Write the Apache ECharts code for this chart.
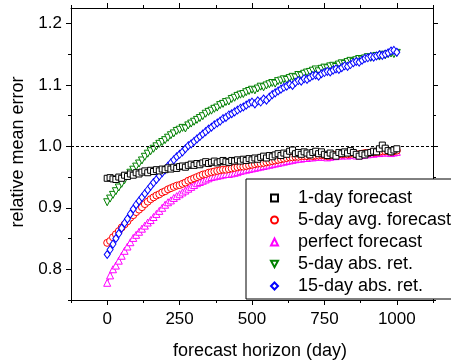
<!DOCTYPE html>
<html>
<head>
<meta charset="utf-8">
<script src="https://cdn.jsdelivr.net/npm/echarts@6/dist/echarts.min.js"></script>
<style>
  html, body { margin: 0; padding: 0; background: #fff; }
  #chart { width: 451px; height: 362px; }
</style>
</head>
<body>
<div id="chart"></div>
<script>
// Forecast horizon in days
const horizon = [
  0, 10, 20, 30, 40, 50, 60, 70, 80, 90,
  100, 110, 120, 130, 140, 150, 160, 170, 180, 190,
  200, 210, 220, 230, 240, 250, 260, 270, 280, 290,
  300, 310, 320, 330, 340, 350, 360, 370, 380, 390,
  400, 410, 420, 430, 440, 450, 460, 470, 480, 490,
  500, 510, 520, 530, 540, 550, 560, 570, 580, 590,
  600, 610, 620, 630, 640, 650, 660, 670, 680, 690,
  700, 710, 720, 730, 740, 750, 760, 770, 780, 790,
  800, 810, 820, 830, 840, 850, 860, 870, 880, 890,
  900, 910, 920, 930, 940, 950, 960, 970, 980, 990,
  1000
];

const oneDayForecast = [
  0.948, 0.949, 0.947, 0.946, 0.950, 0.948, 0.953, 0.951, 0.955, 0.953,
  0.957, 0.955, 0.958, 0.960, 0.957, 0.961, 0.959, 0.962, 0.960, 0.963,
  0.962, 0.965, 0.963, 0.966, 0.964, 0.967, 0.968, 0.966, 0.969, 0.971,
  0.969, 0.972, 0.970, 0.973, 0.975, 0.972, 0.974, 0.976, 0.973, 0.975,
  0.977, 0.975, 0.974, 0.977, 0.976, 0.978, 0.976, 0.979, 0.977, 0.980,
  0.978, 0.981, 0.979, 0.982, 0.984, 0.981, 0.985, 0.983, 0.986, 0.988,
  0.985, 0.989, 0.987, 0.992, 0.994, 0.988, 0.990, 0.987, 0.991, 0.989,
  0.986, 0.990, 0.992, 0.988, 0.991, 0.987, 0.985, 0.989, 0.986, 0.984,
  0.990, 0.988, 0.991, 0.989, 0.993, 0.990, 0.987, 0.984, 0.988, 0.986,
  0.989, 0.990, 0.992, 0.991, 0.996, 1.002, 0.997, 0.993, 0.991, 0.994,
  0.996
];

const fiveDayAvgForecast = [
  0.843, 0.846, 0.852, 0.857, 0.862, 0.868, 0.873, 0.878, 0.884, 0.888,
  0.893, 0.897, 0.901, 0.906, 0.910, 0.914, 0.917, 0.920, 0.922, 0.925,
  0.927, 0.930, 0.932, 0.934, 0.936, 0.937, 0.939, 0.941, 0.944, 0.946,
  0.948, 0.950, 0.952, 0.954, 0.955, 0.957, 0.958, 0.959, 0.960, 0.961,
  0.962, 0.962, 0.963, 0.964, 0.965, 0.966, 0.967, 0.967, 0.968, 0.969,
  0.970, 0.971, 0.972, 0.972, 0.973, 0.974, 0.975, 0.976, 0.977, 0.978,
  0.979, 0.980, 0.981, 0.982, 0.982, 0.983, 0.983, 0.984, 0.984, 0.984,
  0.985, 0.984, 0.985, 0.985, 0.986, 0.985, 0.984, 0.985, 0.986, 0.986,
  0.987, 0.987, 0.988, 0.987, 0.988, 0.988, 0.987, 0.987, 0.988, 0.989,
  0.989, 0.990, 0.990, 0.991, 0.991, 0.992, 0.992, 0.992, 0.991, 0.992,
  0.993
];

const perfectForecast = [
  0.778, 0.790, 0.800, 0.806, 0.814, 0.822, 0.830, 0.837, 0.844, 0.851,
  0.856, 0.861, 0.866, 0.871, 0.876, 0.880, 0.885, 0.890, 0.895, 0.900,
  0.905, 0.909, 0.912, 0.916, 0.919, 0.922, 0.925, 0.928, 0.931, 0.934,
  0.937, 0.940, 0.942, 0.944, 0.946, 0.948, 0.950, 0.951, 0.952, 0.953,
  0.954, 0.955, 0.955, 0.956, 0.957, 0.958, 0.960, 0.961, 0.962, 0.963,
  0.964, 0.965, 0.966, 0.967, 0.968, 0.969, 0.970, 0.971, 0.972, 0.973,
  0.974, 0.975, 0.976, 0.977, 0.978, 0.979, 0.980, 0.980, 0.981, 0.981,
  0.982, 0.982, 0.983, 0.983, 0.983, 0.983, 0.982, 0.983, 0.984, 0.984,
  0.985, 0.985, 0.986, 0.985, 0.986, 0.986, 0.985, 0.985, 0.986, 0.987,
  0.987, 0.988, 0.988, 0.989, 0.989, 0.990, 0.990, 0.990, 0.989, 0.990,
  0.991
];

const fiveDayAbsRet = [
  0.909, 0.915, 0.921, 0.927, 0.933, 0.939, 0.945, 0.951, 0.957, 0.962,
  0.967, 0.972, 0.977, 0.983, 0.988, 0.992, 0.996, 1.000, 1.004, 1.007,
  1.010, 1.014, 1.018, 1.021, 1.025, 1.027, 1.030, 1.029, 1.034, 1.037,
  1.040, 1.043, 1.046, 1.049, 1.053, 1.056, 1.058, 1.061, 1.063, 1.067,
  1.069, 1.072, 1.073, 1.077, 1.079, 1.082, 1.084, 1.085, 1.088, 1.090,
  1.092, 1.091, 1.094, 1.097, 1.096, 1.099, 1.101, 1.103, 1.102, 1.106,
  1.107, 1.109, 1.108, 1.111, 1.113, 1.112, 1.116, 1.115, 1.118, 1.120,
  1.121, 1.123, 1.125, 1.122, 1.126, 1.128, 1.127, 1.130, 1.131, 1.129,
  1.133, 1.135, 1.134, 1.137, 1.139, 1.137, 1.140, 1.142, 1.141, 1.143,
  1.145, 1.144, 1.146, 1.147, 1.146, 1.149, 1.148, 1.150, 1.151, 1.150,
  1.152
];

const fifteenDayAbsRet = [
  0.824, 0.832, 0.841, 0.850, 0.858, 0.867, 0.875, 0.882, 0.890, 0.898,
  0.905, 0.911, 0.917, 0.923, 0.929, 0.935, 0.941, 0.946, 0.952, 0.957,
  0.962, 0.968, 0.973, 0.978, 0.983, 0.987, 0.991, 0.996, 1.001, 1.004,
  1.008, 1.012, 1.016, 1.020, 1.024, 1.028, 1.031, 1.035, 1.038, 1.041,
  1.045, 1.047, 1.051, 1.053, 1.056, 1.059, 1.062, 1.064, 1.067, 1.070,
  1.072, 1.069, 1.074, 1.072, 1.077, 1.075, 1.080, 1.084, 1.087, 1.090,
  1.093, 1.096, 1.098, 1.101, 1.099, 1.104, 1.107, 1.106, 1.110, 1.109,
  1.112, 1.115, 1.116, 1.114, 1.118, 1.120, 1.122, 1.121, 1.124, 1.126,
  1.125, 1.128, 1.131, 1.130, 1.133, 1.136, 1.138, 1.137, 1.140, 1.143,
  1.144, 1.146, 1.145, 1.147, 1.149, 1.148, 1.150, 1.152, 1.155, 1.156,
  1.153
];

const xMajorTicks = [0, 250, 500, 750, 1000];
const xMinorTicks = [-125, 125, 375, 625, 875, 1125];
const yMajorTicks = [0.8, 0.9, 1.0, 1.1, 1.2];
const yMinorTicks = [0.75, 0.85, 0.95, 1.05, 1.15];

const FONT = 'Liberation Sans, Arial, sans-serif';
const TICK_FONT_SIZE = 17;
const NAME_FONT_SIZE = 18;
const downTriangle = 'path://M0,0L10,0L5,9Z';

const seriesDefs = [
  { name: '1-day forecast', data: oneDayForecast, color: '#000000', symbol: 'rect', size: 6, z: 6 },
  { name: '5-day avg. forecast', data: fiveDayAvgForecast, color: '#ff0000', symbol: 'circle', size: 7, z: 3 },
  { name: 'perfect forecast', data: perfectForecast, color: '#ff00ff', symbol: 'triangle', size: 7, z: 2 },
  { name: '5-day abs. ret.', data: fiveDayAbsRet, color: '#008000', symbol: downTriangle, size: 7, z: 4 },
  { name: '15-day abs. ret.', data: fifteenDayAbsRet, color: '#0000ff', symbol: 'diamond', size: [6, 8], z: 5 }
];

function xAxisDef(position, ticks, len, showLine, showLabel) {
  return {
    type: 'value', position: position, min: -125, max: 1125,
    splitLine: { show: false },
    axisLine: { show: showLine, onZero: false, lineStyle: { color: '#000', width: 1 } },
    axisTick: { show: true, inside: false, length: len, customValues: ticks, lineStyle: { color: '#000', width: 1 } },
    axisLabel: { show: showLabel, customValues: ticks, margin: 11, color: '#000', fontFamily: FONT, fontSize: TICK_FONT_SIZE,
      formatter: v => String(v) }
  };
}
function yAxisDef(position, ticks, len, showLine, showLabel) {
  return {
    type: 'value', position: position, min: 0.75, max: 1.225,
    splitLine: { show: false },
    axisLine: { show: showLine, onZero: false, lineStyle: { color: '#000', width: 1 } },
    axisTick: { show: true, inside: false, length: len, customValues: ticks, lineStyle: { color: '#000', width: 1 } },
    axisLabel: { show: showLabel, customValues: ticks, margin: 9, color: '#000', fontFamily: FONT, fontSize: TICK_FONT_SIZE,
      formatter: v => v.toFixed(1) }
  };
}

const xAxes = [
  xAxisDef('bottom', xMajorTicks, 5, true, true),
  xAxisDef('bottom', xMinorTicks, 3, false, false),
  xAxisDef('top', xMajorTicks, 5, true, false),
  xAxisDef('top', xMinorTicks, 3, false, false)
];
Object.assign(xAxes[0], {
  name: 'forecast horizon (day)', nameLocation: 'middle', nameGap: 42,
  nameTextStyle: { color: '#000', fontFamily: FONT, fontSize: NAME_FONT_SIZE, padding: [0, 0, 0, 16] }
});

const yAxes = [
  yAxisDef('left', yMajorTicks, 5, true, true),
  yAxisDef('left', yMinorTicks, 3, false, false),
  yAxisDef('right', yMajorTicks, 5, true, false),
  yAxisDef('right', yMinorTicks, 3, false, false)
];
Object.assign(yAxes[0], {
  name: 'relative mean error', nameLocation: 'middle', nameGap: 43,
  nameTextStyle: { color: '#000', fontFamily: FONT, fontSize: NAME_FONT_SIZE, padding: [0, 0, 0, 4] }
});

const series = seriesDefs.map((s, i) => ({
  name: s.name,
  type: 'line',
  xAxisIndex: 0,
  yAxisIndex: 0,
  data: horizon.map((h, k) => [h, s.data[k]]),
  symbol: s.symbol,
  symbolSize: s.size,
  showAllSymbol: true,
  z: s.z,
  color: s.color,
  lineStyle: { color: s.color, width: 1 },
  itemStyle: { color: '#fff', borderColor: s.color, borderWidth: 1 },
  emphasis: { disabled: true },
  animation: false
}));

// dashed reference line at 1.0
series[0].markLine = {
  silent: true,
  symbol: 'none',
  label: { show: false },
  lineStyle: { color: '#000', type: [3, 2], width: 1 },
  data: [{ yAxis: 1.0 }]
};

const chart = echarts.init(document.getElementById('chart'), null, { renderer: 'canvas' });
chart.setOption({
  animation: false,
  backgroundColor: '#fff',
  grid: { left: 71, right: 18, top: 8, bottom: 62, containLabel: false, outerBoundsMode: 'none' },
  xAxis: xAxes,
  yAxis: yAxes,
  legend: {
    orient: 'vertical',
    left: 246,
    top: 179,
    padding: [9, 30, 3, 24],
    itemGap: 2,
    itemWidth: 7,
    itemHeight: 7,
    borderColor: '#000',
    borderWidth: 1,
    backgroundColor: '#fff',
    selectedMode: false,
    textStyle: { color: '#000', fontFamily: FONT, fontSize: 18, lineHeight: 20, padding: [0, 0, 0, 15] },
    data: seriesDefs.map(s => ({ name: s.name, icon: s.symbol }))
  },
  series: series
});
</script>
</body>
</html>
